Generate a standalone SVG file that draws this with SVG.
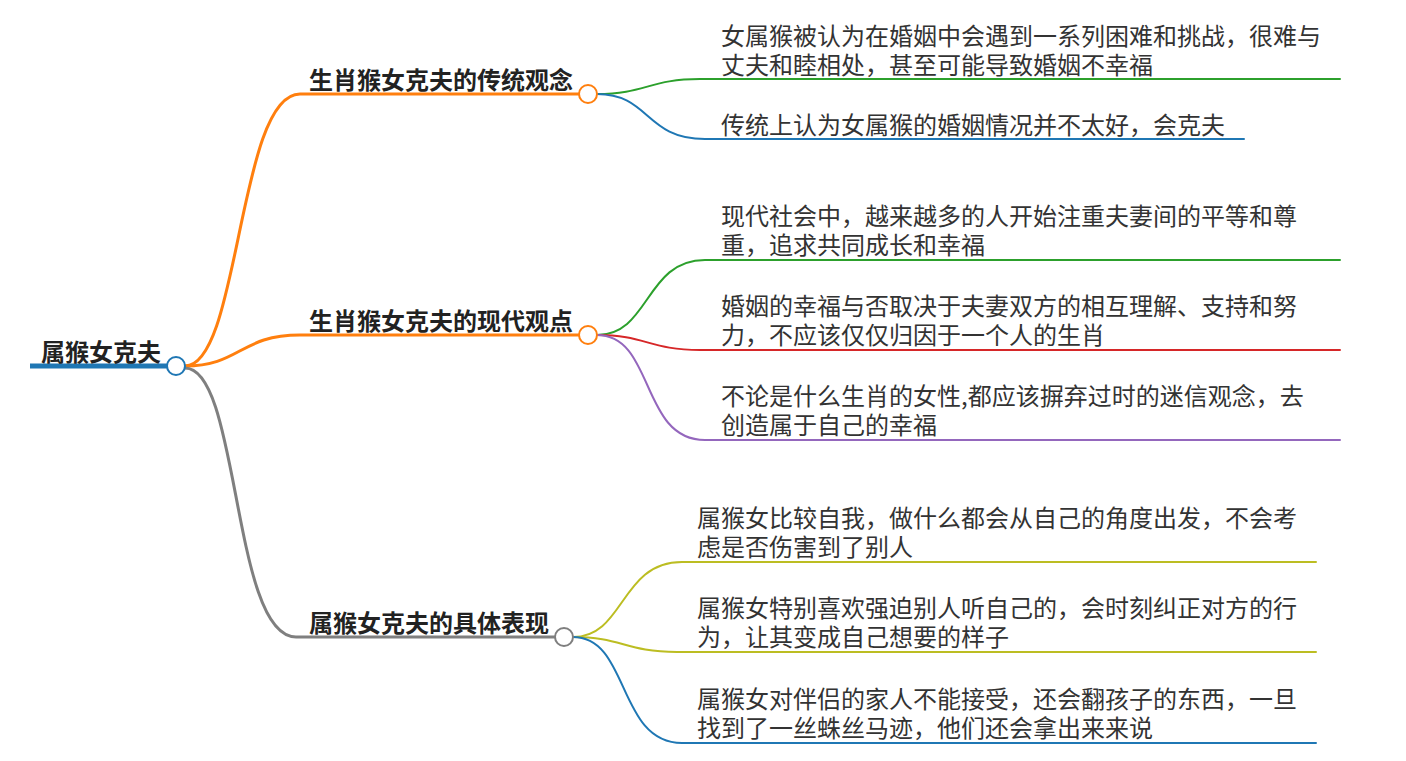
<svg xmlns="http://www.w3.org/2000/svg" width="1406" height="761" viewBox="0 0 1406 761">
<style>
.bg{fill:#ffffff}
.root{font-family:"Noto Sans CJK SC","Noto Sans",sans-serif;font-size:24px;font-weight:700;fill:#222}
.br{font-family:"Noto Sans CJK SC","Noto Sans",sans-serif;font-size:24px;font-weight:700;fill:#222}
.lf{font-family:"Noto Sans CJK SC","Noto Sans",sans-serif;font-size:24px;font-weight:400;fill:#333}
.c{fill:none;stroke-linecap:round}
.b{stroke-width:3}
.l{stroke-width:2}
.dot{fill:#fff;stroke-width:2}
</style>
<rect class="bg" x="0" y="0" width="1406" height="761"/>
<g id="connectors">
  <path class="c b" stroke="#ff7f0e" d="M185,366 C240,366 238,94 300,94 L580,94"/>
  <path class="c b" stroke="#ff7f0e" d="M185,366 C240,366 240,335 300,335 L580,335"/>
  <path class="c b" stroke="#7f7f7f" d="M185,368 C240,368 232,637 296,637 L556,637"/>
  <path class="c l" stroke="#2ca02c" d="M597,94 C645,94 650,79 700,79 L1340,79"/>
  <path class="c l" stroke="#1f77b4" d="M597,94 C650,94 645,139 705,139 L1244,139"/>
  <path class="c l" stroke="#2ca02c" d="M597,335 C650,335 645,260 705,260 L1340,260"/>
  <path class="c l" stroke="#d62728" d="M597,335 C645,335 650,350 700,350 L1340,350"/>
  <path class="c l" stroke="#9467bd" d="M597,335 C655,335 640,440 705,440 L1340,440"/>
  <path class="c l" stroke="#bcbd22" d="M573,637 C625,637 620,562 682,562 L1316,562"/>
  <path class="c l" stroke="#bcbd22" d="M573,637 C622,637 625,652 677,652 L1316,652"/>
  <path class="c l" stroke="#1f77b4" d="M573,637 C630,637 617,743 682,743 L1316,743"/>
</g>
<g id="root">
  <line x1="30" y1="366" x2="168" y2="366" stroke="#1f77b4" stroke-width="5"/>
  <text class="root" x="41" y="361">属猴女克夫</text>
  <circle class="dot" cx="176" cy="366" r="9" stroke="#1f77b4"/>
</g>
<g id="branch1">
  <text class="br" x="309" y="89">生肖猴女克夫的传统观念</text>
  <circle class="dot" cx="588" cy="94" r="9" stroke="#ff7f0e"/>
</g>
<g id="branch2">
  <text class="br" x="309" y="330">生肖猴女克夫的现代观点</text>
  <circle class="dot" cx="588" cy="335" r="9" stroke="#ff7f0e"/>
</g>
<g id="branch3">
  <text class="br" x="309" y="632">属猴女克夫的具体表现</text>
  <circle class="dot" cx="564" cy="637" r="9" stroke="#7f7f7f"/>
</g>
<g id="leaf1">
  <text class="lf"><tspan x="721" y="44.5">女属猴被认为在婚姻中会遇到一系列困难和挑战，很难与</tspan><tspan x="721" y="73.5">丈夫和睦相处，甚至可能导致婚姻不幸福</tspan></text>
</g>
<g id="leaf2">
  <text class="lf" x="721" y="133.5">传统上认为女属猴的婚姻情况并不太好，会克夫</text>
</g>
<g id="leaf3">
  <text class="lf"><tspan x="721" y="224.5">现代社会中，越来越多的人开始注重夫妻间的平等和尊</tspan><tspan x="721" y="253.5">重，追求共同成长和幸福</tspan></text>
</g>
<g id="leaf4">
  <text class="lf"><tspan x="721" y="314.5">婚姻的幸福与否取决于夫妻双方的相互理解、支持和努</tspan><tspan x="721" y="343.5">力，不应该仅仅归因于一个人的生肖</tspan></text>
</g>
<g id="leaf5">
  <text class="lf"><tspan x="721" y="404.5">不论是什么生肖的女性,都应该摒弃过时的迷信观念，去</tspan><tspan x="721" y="433.5">创造属于自己的幸福</tspan></text>
</g>
<g id="leaf6">
  <text class="lf"><tspan x="697" y="526.5">属猴女比较自我，做什么都会从自己的角度出发，不会考</tspan><tspan x="697" y="555.5">虑是否伤害到了别人</tspan></text>
</g>
<g id="leaf7">
  <text class="lf"><tspan x="697" y="616.5">属猴女特别喜欢强迫别人听自己的，会时刻纠正对方的行</tspan><tspan x="697" y="645.5">为，让其变成自己想要的样子</tspan></text>
</g>
<g id="leaf8">
  <text class="lf"><tspan x="697" y="707.5">属猴女对伴侣的家人不能接受，还会翻孩子的东西，一旦</tspan><tspan x="697" y="736.5">找到了一丝蛛丝马迹，他们还会拿出来来说</tspan></text>
</g>
</svg>
